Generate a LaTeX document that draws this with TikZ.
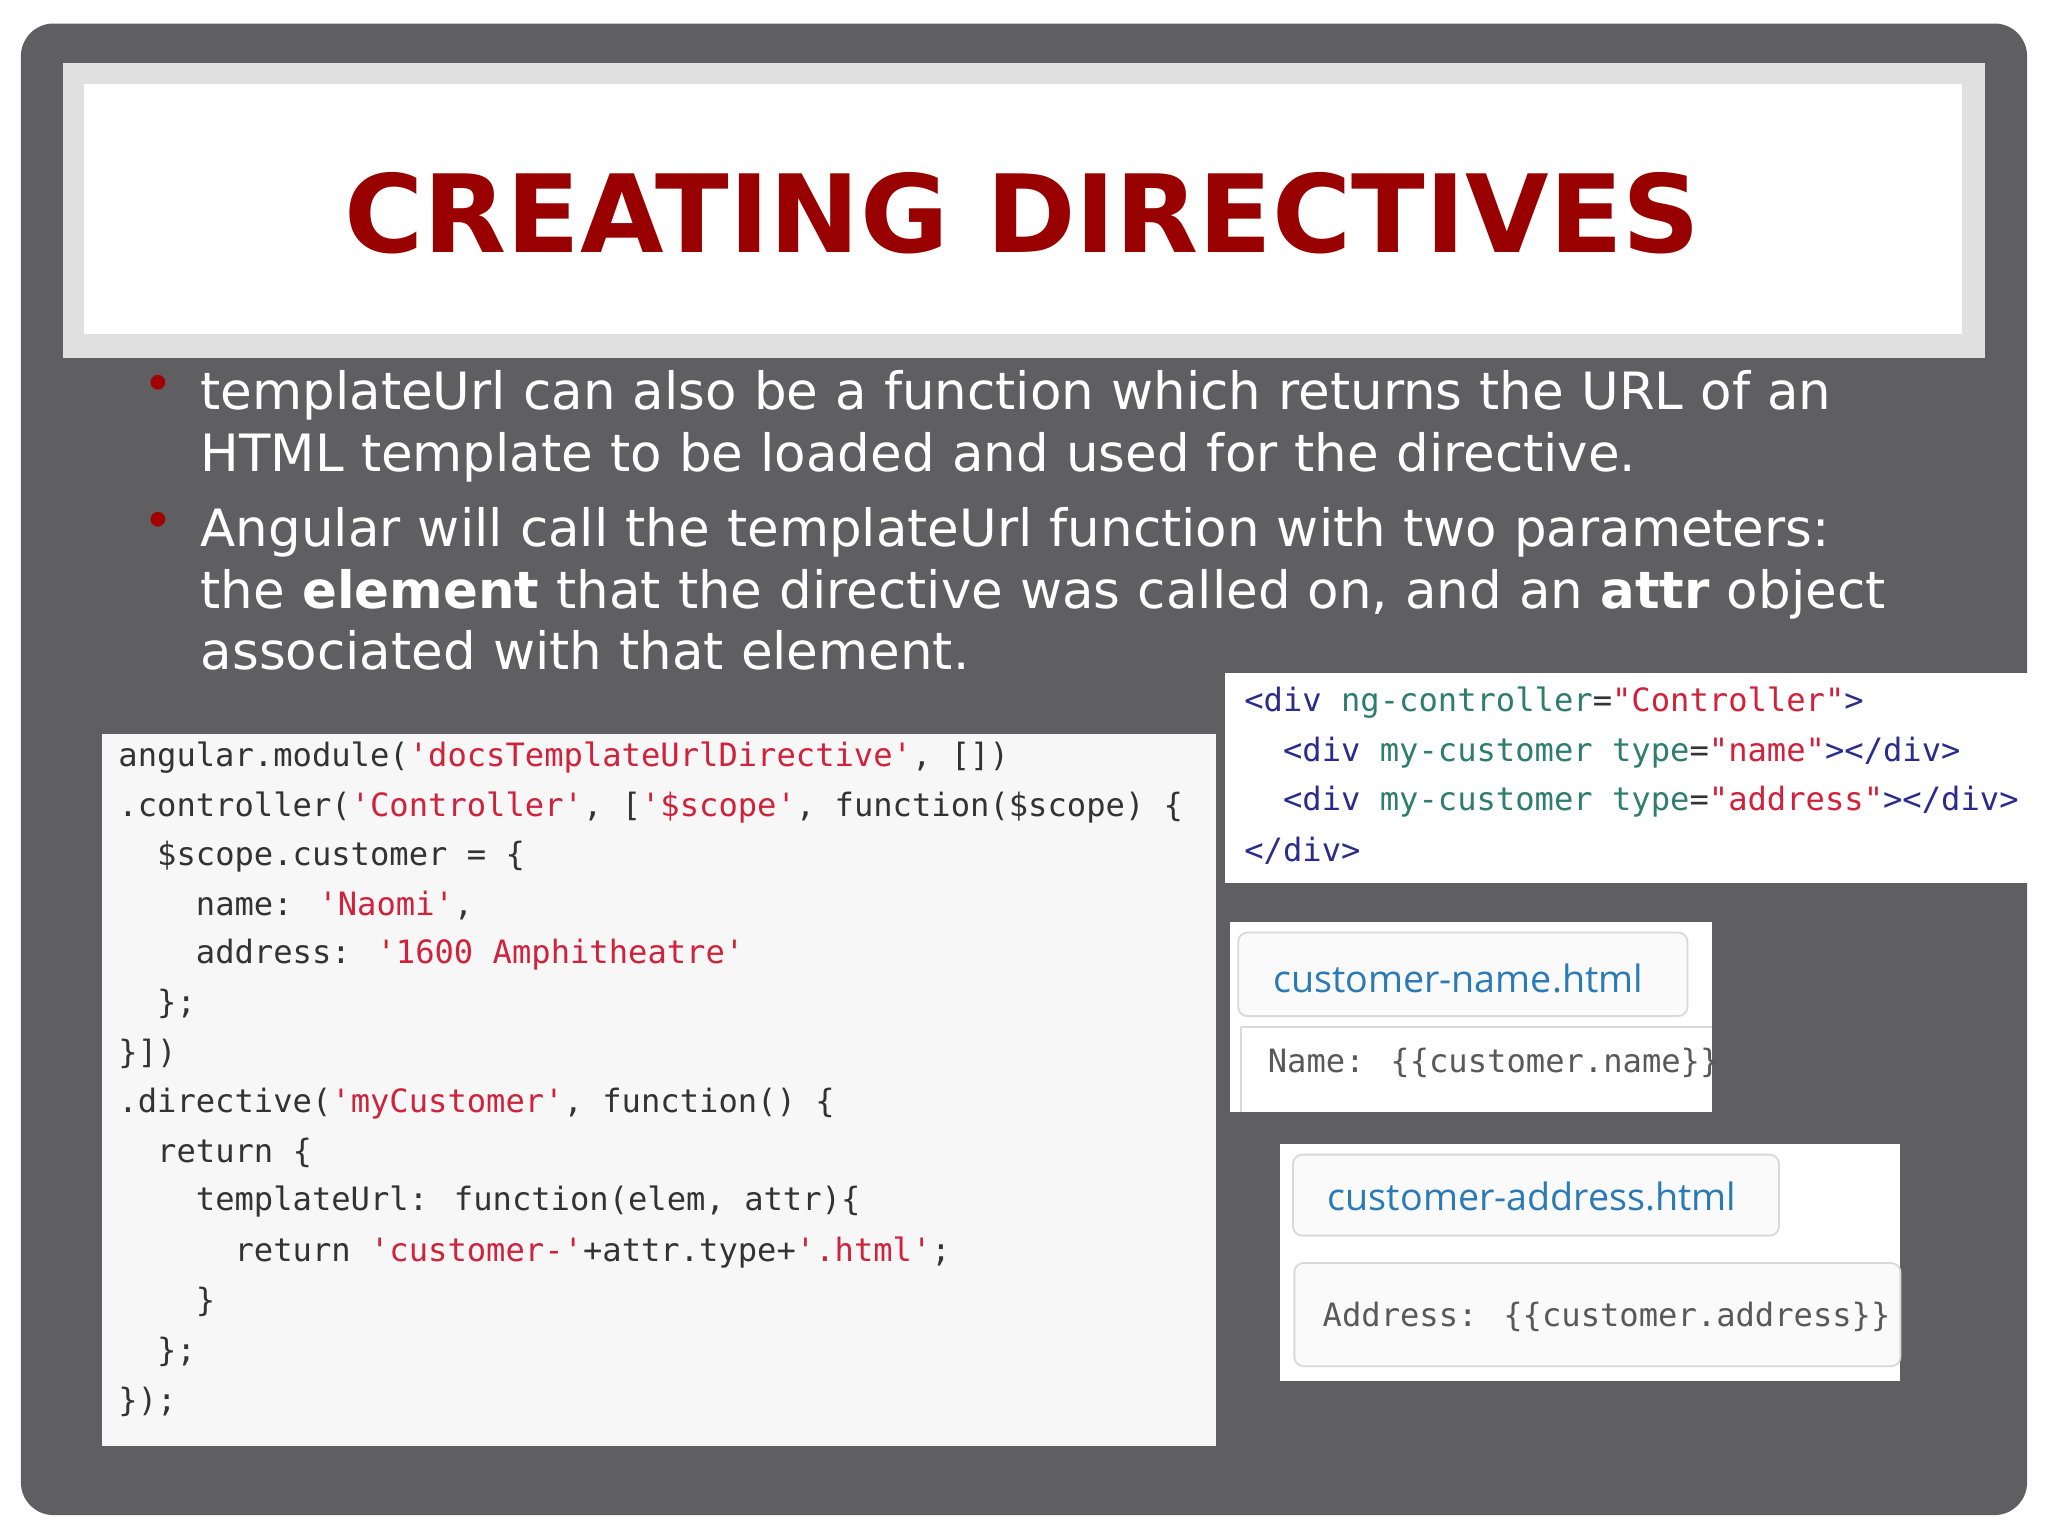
\documentclass[tikz,border=0pt]{standalone}
\usepackage{fontspec}
\setmainfont{DejaVu Sans}
\newfontfamily\cf{DejaVu Sans Mono}
\newfontfamily\uif{Open Sans}
\definecolor{bg}{HTML}{5F5E60}
\definecolor{ttl}{HTML}{990000}
\definecolor{strc}{HTML}{D0233B}
\definecolor{tagc}{HTML}{2B2B8C}
\definecolor{attc}{HTML}{2E7D6E}
\definecolor{lnk}{HTML}{2A7AB8}
\newcommand\St[1]{\textcolor{strc}{#1}}
\newcommand\Tg[1]{\textcolor{tagc}{#1}}
\newcommand\At[1]{\textcolor{attc}{#1}}
\begin{document}
\begin{tikzpicture}[x=0.01cm,y=-0.01cm,
  cl/.style={anchor=west,inner sep=0pt,font=\cf\fontsize{7}{8}\selectfont,text=black!80},
  bl/.style={anchor=north west,inner sep=0pt,text width=13.2cm,align=left,text=white,font=\fontsize{11.2}{13.4}\selectfont},
  dot/.style={anchor=north,inner sep=0pt,text=ttl!90!red,font=\fontsize{11}{13}\selectfont}]
\useasboundingbox (0,0) rectangle (1568,1176);
\fill[white] (0,0) rectangle (1568,1176);
\fill[bg,rounded corners=0.25cm] (16,18) rectangle (1552,1160);
\fill[black!12] (48,48) rectangle (1520,274);
\fill[white] (64,64) rectangle (1502,256);
\node[font=\bfseries\fontsize{23.5}{28}\selectfont,text=ttl] (title) at (783,163) {CREATING DIRECTIVES};
\node[dot] (d1) at (121,287) {•};
\node[bl] (b1) at (153,283) {templateUrl can also be a function which returns the URL of an HTML template to be loaded and used for the directive.};
\node[dot] (d2) at (121,392) {•};
\node[bl] (b2) at (153,388) {Angular will call the templateUrl function with two parameters: the \textbf{element} that the directive was called on, and an \textbf{attr} object associated with that element.};
% left code
\fill[black!3] (78,562) rectangle (931,1107);
\node[cl] (c1) at (90,580) {angular.module(\St{'docsTemplateUrlDirective'}, [])};
\node[cl] (c2) at (90,618) {.controller(\St{'Controller'}, [\St{'\$scope'}, function(\$scope) \{};
\node[cl] (c3) at (90,656) {\ \ \$scope.customer = \{};
\node[cl] (c4) at (90,693) {\ \ \ \ name: \St{'Naomi'},};
\node[cl] (c5) at (90,731) {\ \ \ \ address: \St{'1600 Amphitheatre'}};
\node[cl] (c6) at (90,769) {\ \ \};};
\node[cl] (c7) at (90,807) {\}])};
\node[cl] (c8) at (90,845) {.directive(\St{'myCustomer'}, function() \{};
\node[cl] (c9) at (90,883) {\ \ return \{};
\node[cl] (c10) at (90,920) {\ \ \ \ templateUrl: function(elem, attr)\{};
\node[cl] (c11) at (90,959) {\ \ \ \ \ \ return \St{'customer-'}+attr.type+\St{'.html'};};
\node[cl] (c12) at (90,997) {\ \ \ \ \}};
\node[cl] (c13) at (90,1035) {\ \ \};};
\node[cl] (c14) at (90,1073) {\});};
% right html
\fill[white] (938,515) rectangle (1568,676);
\node[cl] (h1) at (952,538) {\Tg{<div} \At{ng-controller}=\St{"Controller"}\Tg{>}};
\node[cl] (h2) at (952,576) {\ \ \Tg{<div} \At{my-customer} \At{type}=\St{"name"}\Tg{></div>}};
\node[cl] (h3) at (952,614) {\ \ \Tg{<div} \At{my-customer} \At{type}=\St{"address"}\Tg{></div>}};
\node[cl] (h4) at (952,651) {\Tg{</div>}};
% customer-name
\fill[white] (942,706) rectangle (1311,851);
\draw[black!15,fill=black!2,rounded corners=2pt] (948,714) rectangle (1292,778);
\node[font=\uif\fontsize{8.2}{10}\selectfont,text=lnk,anchor=west,inner sep=0pt] (n1) at (974,749) {customer-name.html};
\draw[black!15,fill=black!2] (950,786) -- (1311,786) (950,786) -- (950,851);
\node[cl,text=black!65] (n2) at (970,814) {Name: \{\{customer.name\}\}};
% customer-address
\fill[white] (980,876) rectangle (1455,1057);
\draw[black!15,fill=black!2,rounded corners=2pt] (990,884) rectangle (1362,946);
\node[font=\uif\fontsize{8.2}{10}\selectfont,text=lnk,anchor=west,inner sep=0pt] (a1) at (1016,916) {customer-address.html};
\draw[black!15,fill=black!2,rounded corners=2pt] (991,967) rectangle (1455,1046);
\node[cl,text=black!65] (a2) at (1012,1008) {Address: \{\{customer.address\}\}};
\end{tikzpicture}
\end{document}
